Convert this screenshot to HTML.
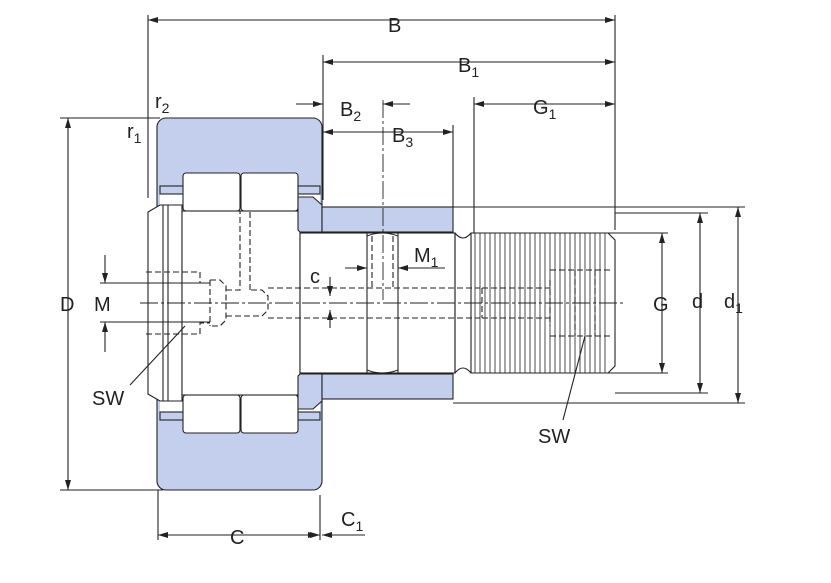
<!DOCTYPE html>
<html><head><meta charset="utf-8"><style>
html,body{margin:0;padding:0;background:#fff;}
svg{display:block;}
text{font-family:"Liberation Sans",sans-serif;fill:#222;}
</style></head><body>
<svg width="831" height="583" viewBox="0 0 831 583" xmlns="http://www.w3.org/2000/svg">
<defs>
<marker id="a" viewBox="0 0 10 6" refX="10" refY="3" markerWidth="10" markerHeight="6" orient="auto-start-reverse" markerUnits="userSpaceOnUse"><path d="M0,0 L10,3 L0,6 z" fill="#222"/></marker>
</defs>
<g stroke="#222" stroke-width="1.1" fill="none">
<!-- outer ring -->
<rect x="157" y="118" width="165" height="372" rx="9" fill="#c3cfec"/>
<rect x="160" y="190" width="160" height="226" fill="#fff" stroke="none"/>
<!-- seals -->
<rect x="160" y="186" width="24" height="8" fill="#c3cfec"/>
<rect x="160" y="412" width="24" height="8" fill="#c3cfec"/>
<rect x="298" y="186" width="22" height="8" fill="#c3cfec"/>
<rect x="298" y="412" width="22" height="8" fill="#c3cfec"/>
<!-- rollers -->
<rect x="183" y="173" width="57" height="38" rx="3" fill="#fff"/>
<rect x="241" y="173" width="57" height="38" rx="3" fill="#fff"/>
<rect x="183" y="395" width="57" height="38" rx="3" fill="#fff"/>
<rect x="241" y="395" width="57" height="38" rx="3" fill="#fff"/>
<!-- inner ring / head -->
<path d="M148,212 L160,205 L182,205 L182,401 L160,401 L148,394 Z" fill="#fff"/>
<line x1="163" y1="205" x2="163" y2="401"/><line x1="168" y1="205" x2="168" y2="401"/>
<rect x="182" y="211" width="118" height="184" fill="#fff"/>
<!-- washer blue -->
<path d="M298,197 L313,197 L322,205 L322,232 L300,232 L298,230 Z" fill="#c3cfec"/>
<path d="M298,409 L313,409 L322,401 L322,374 L300,374 L298,376 Z" fill="#c3cfec"/>
<!-- sleeve -->
<rect x="322" y="207" width="131" height="25" fill="#c3cfec"/>
<rect x="322" y="374" width="131" height="25" fill="#c3cfec"/>
<!-- shaft -->
<rect x="300" y="233" width="155" height="140" fill="#fff"/>
<path d="M455,233 q8,10 16,0 M455,373 q8,-10 16,0"/>
<line x1="455" y1="233" x2="455" y2="373"/>
<!-- lube hole -->
<line x1="367" y1="233" x2="367" y2="373"/><line x1="398" y1="233" x2="398" y2="373"/>
<path d="M367,236 q15,-6 31,0 M367,370 q15,6 31,0"/>
<!-- thread -->
<path d="M471,233 L608,233 L615,240 L615,366 L608,373 L471,373 Z" fill="#fff"/>
<g stroke-width="0.8">
<path d="M475,233V373M480,233V373M485,233V373M490,233V373M495,233V373M500,233V373M505,233V373M510,233V373M515,233V373M520,233V373M525,233V373M530,233V373M535,233V373M540,233V373M545,233V373M550,233V373M555,233V373M560,233V373M565,233V373M570,233V373M575,233V373M580,233V373M585,233V373M590,233V373M595,233V373M600,233V373M605,233V373"/>
</g>
<!-- hidden lines -->
<g stroke-dasharray="6,3">
<path d="M146,272 H200 V283 H210 M146,334 H200 V323 H210 M210,280 V326 M210,280 H220 L226,286 V320 L220,326 H210"/>
<path d="M226,290 H240 V211 M250,290 V211 M226,316 H262 L268,310 V296 L262,290 H250"/>
<path d="M268,288 H480 M268,318 H480 M482,288 V318 M482,288 H550 M482,318 H550 M550,280 V326 M550,270 H612 M550,336 H612 M575,270 V336 M595,270 V336"/>
<path d="M372,236 V290 M393,236 V290"/>
</g>
<!-- centerline -->
<line x1="140" y1="303" x2="625" y2="303" stroke-dasharray="18,3,3,3" stroke-width="0.9"/>
<line x1="383" y1="100" x2="383" y2="300" stroke-dasharray="18,3,3,3" stroke-width="0.9"/>
<!-- extension lines -->
<line x1="148" y1="15" x2="148" y2="198"/>
<line x1="615" y1="15" x2="615" y2="230"/>
<line x1="323" y1="55" x2="323" y2="200"/>
<line x1="453" y1="125" x2="453" y2="207"/>
<line x1="474" y1="97" x2="474" y2="233"/>
<line x1="60" y1="118" x2="160" y2="118"/>
<line x1="60" y1="490" x2="163" y2="490"/>
<line x1="158" y1="490" x2="158" y2="540"/>
<line x1="320" y1="495" x2="320" y2="540"/>
<line x1="453" y1="207" x2="745" y2="207"/>
<line x1="453" y1="403" x2="745" y2="403"/>
<line x1="615" y1="213" x2="708" y2="213"/>
<line x1="615" y1="393" x2="708" y2="393"/>
<line x1="608" y1="233" x2="668" y2="233"/>
<line x1="608" y1="373" x2="668" y2="373"/>
<line x1="100" y1="283" x2="210" y2="283"/>
<line x1="100" y1="322" x2="210" y2="322"/>
<!-- dims -->
<line x1="148" y1="20" x2="615" y2="20" marker-start="url(#a)" marker-end="url(#a)"/>
<line x1="323" y1="62" x2="615" y2="62" marker-start="url(#a)" marker-end="url(#a)"/>
<line x1="296" y1="104" x2="323" y2="104" marker-end="url(#a)"/>
<line x1="410" y1="104" x2="383" y2="104" marker-end="url(#a)"/>
<line x1="323" y1="132" x2="453" y2="132" marker-start="url(#a)" marker-end="url(#a)"/>
<line x1="474" y1="104" x2="615" y2="104" marker-start="url(#a)" marker-end="url(#a)"/>
<line x1="68" y1="118" x2="68" y2="490" marker-start="url(#a)" marker-end="url(#a)"/>
<line x1="158" y1="535" x2="320" y2="535" marker-start="url(#a)" marker-end="url(#a)"/>
<line x1="298" y1="535" x2="318" y2="535" marker-end="url(#a)"/>
<line x1="365" y1="535" x2="322" y2="535" marker-end="url(#a)"/>
<line x1="662" y1="233" x2="662" y2="373" marker-start="url(#a)" marker-end="url(#a)"/>
<line x1="700" y1="213" x2="700" y2="393" marker-start="url(#a)" marker-end="url(#a)"/>
<line x1="738" y1="207" x2="738" y2="403" marker-start="url(#a)" marker-end="url(#a)"/>
<line x1="105" y1="255" x2="105" y2="283" marker-end="url(#a)"/>
<line x1="105" y1="352" x2="105" y2="322" marker-end="url(#a)"/>
<line x1="330" y1="277" x2="330" y2="296" marker-end="url(#a)"/>
<line x1="330" y1="328" x2="330" y2="310" marker-end="url(#a)"/>
<line x1="345" y1="268" x2="367" y2="268" marker-end="url(#a)"/>
<line x1="445" y1="268" x2="398" y2="268" marker-end="url(#a)"/>
<line x1="130" y1="385" x2="185" y2="326"/>
<line x1="563" y1="420" x2="585" y2="336"/>
</g>
<g font-size="20">
<text x="388" y="32">B</text>
<text x="458" y="72">B<tspan font-size="14" dy="5">1</tspan></text>
<text x="340" y="116">B<tspan font-size="14" dy="5">2</tspan></text>
<text x="392" y="142">B<tspan font-size="14" dy="5">3</tspan></text>
<text x="533" y="114">G<tspan font-size="14" dy="5">1</tspan></text>
<text x="155" y="108">r<tspan font-size="14" dy="5">2</tspan></text>
<text x="127" y="138">r<tspan font-size="14" dy="5">1</tspan></text>
<text x="60" y="311">D</text>
<text x="94" y="311">M</text>
<text x="310" y="283">c</text>
<text x="414" y="262">M<tspan font-size="14" dy="5">1</tspan></text>
<text x="653" y="311">G</text>
<text x="692" y="308">d</text>
<text x="724" y="308">d<tspan font-size="14" dy="5">1</tspan></text>
<text x="92" y="405">SW</text>
<text x="538" y="443">SW</text>
<text x="230" y="544">C</text>
<text x="341" y="526">C<tspan font-size="14" dy="5">1</tspan></text>
</g>
</svg>
</body></html>
